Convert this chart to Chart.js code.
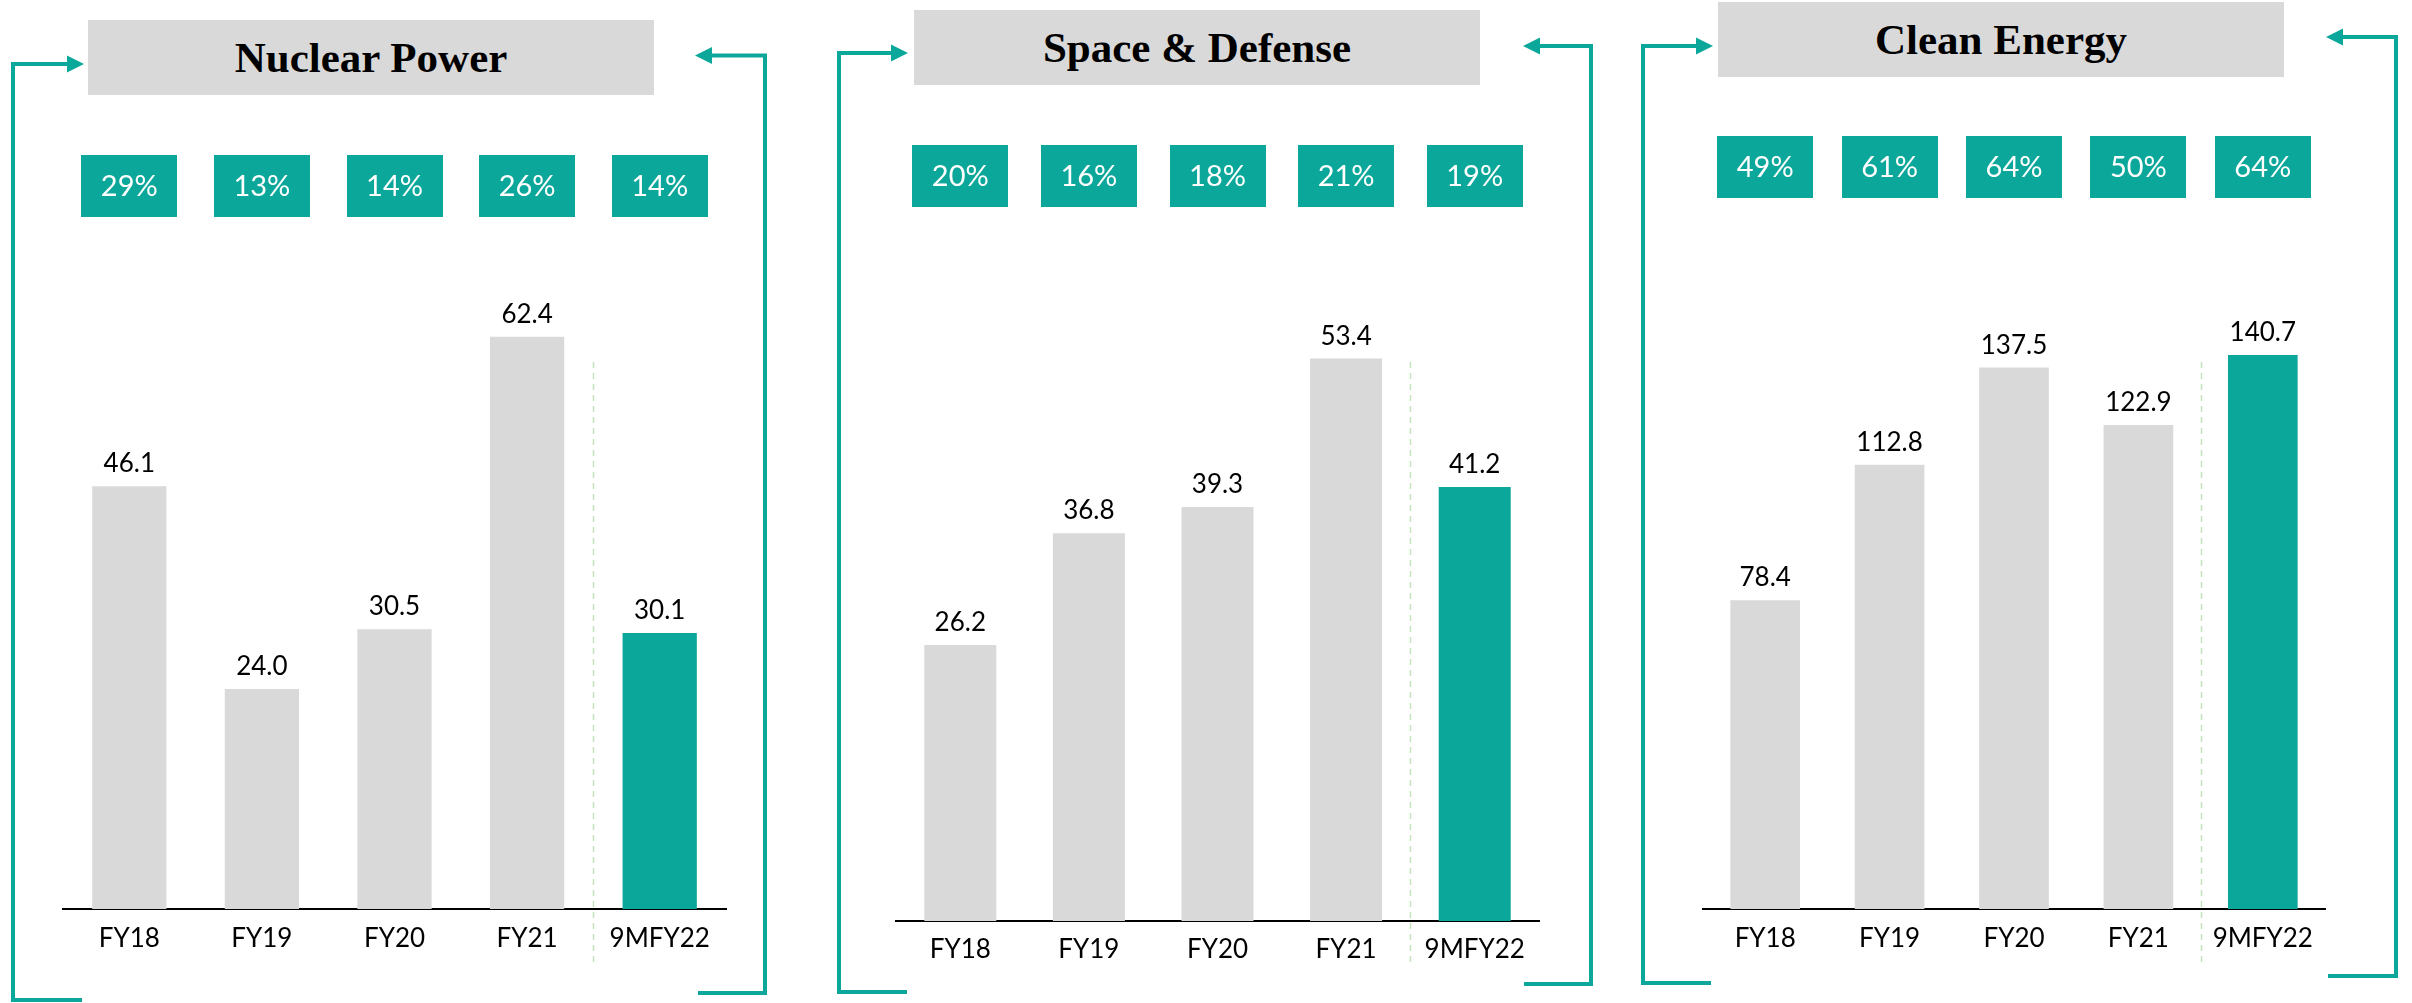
<!DOCTYPE html>
<html>
<head>
<meta charset="utf-8">
<script src="https://cdn.jsdelivr.net/npm/chart.js@4.4.1/dist/chart.umd.min.js"></script>
<style>
  html, body { margin: 0; padding: 0; background: #fff; }
  #page { position: relative; width: 2412px; height: 1003px; overflow: hidden; }
  .title {
    position: absolute; background: #d9d9d9; display: flex;
    align-items: center; justify-content: center;
    font-family: "Liberation Serif", serif; font-weight: bold; font-size: 43px; color: #000;
  }
  canvas { position: absolute; top: 0; }
  svg { position: absolute; left: 0; top: 0; }
</style>
</head>
<body>
<div id="page">
  <svg width="2412" height="1003">
    <g fill="none" stroke="#0aa79a" stroke-width="4">
      <path d="M82 1000 H13 V64 H68"/>
      <path d="M698 993 H765 V55.5 H711"/>
      <path d="M907 992 H839 V53 H893"/>
      <path d="M1524 984 H1591 V46 H1538"/>
      <path d="M1711 983 H1643 V46 H1698"/>
      <path d="M2328 976 H2396 V37 H2341"/>
    </g>
    <g fill="#0aa79a">
      <polygon points="67,55.5 84,64 67,72.5"/>
      <polygon points="712,47 695,55.5 712,64"/>
      <polygon points="891,44.5 908,53 891,61.5"/>
      <polygon points="1540,37.5 1523,46 1540,54.5"/>
      <polygon points="1696,37.5 1713,46 1696,54.5"/>
      <polygon points="2343,28.5 2326,37 2343,45.5"/>
    </g>
  </svg>
  <div class="title" id="t0" style="left:88px;top:20px;width:566px;height:75px;"></div>
  <div class="title" id="t1" style="left:914px;top:10px;width:566px;height:75px;"></div>
  <div class="title" id="t2" style="left:1718px;top:2px;width:566px;height:75px;"></div>
  <canvas id="c0" width="800" height="1003" style="left:0px;"></canvas>
  <canvas id="c1" width="800" height="1003" style="left:820px;"></canvas>
  <canvas id="c2" width="792" height="1003" style="left:1620px;"></canvas>
</div>
<script>
const categories = ['FY18', 'FY19', 'FY20', 'FY21', '9MFY22'];
const panelTitles = ['Nuclear Power', 'Space & Defense', 'Clean Energy'];

const nuclearValues = [46.1, 24.0, 30.5, 62.4, 30.1];
const nuclearShares = [29, 13, 14, 26, 14];

const spaceValues = [26.2, 36.8, 39.3, 53.4, 41.2];
const spaceShares = [20, 16, 18, 21, 19];

const cleanValues = [78.4, 112.8, 137.5, 122.9, 140.7];
const cleanShares = [49, 61, 64, 50, 64];

const TEAL = '#0aa79a';
const GREY = '#d9d9d9';

// per-panel layout
const panels = [
  { values: nuclearValues, shares: nuclearShares, max: 70,  pad: { left: 63, right: 74, top: 267 }, axisH: 94, tickPad: 14, boxTop: 155 },
  { values: spaceValues,   shares: spaceShares,   max: 60,  pad: { left: 76, right: 81, top: 289 }, axisH: 82, tickPad: 13, boxTop: 145 },
  { values: cleanValues,   shares: cleanShares,   max: 160, pad: { left: 83, right: 87, top: 279 }, axisH: 94, tickPad: 14, boxTop: 136 },
];

const extrasPlugin = {
  id: 'extras',
  afterDatasetsDraw(chart, args, opts) {
    const ctx = chart.ctx;
    const bars = chart.getDatasetMeta(0).data;
    ctx.save();

    // dashed separator before the 9M bar
    const sx = Math.round((bars[3].x + bars[4].x) / 2) + 0.5;
    ctx.strokeStyle = '#c6e3bd';
    ctx.lineWidth = 1.5;
    ctx.setLineDash([6, 5]);
    ctx.beginPath();
    ctx.moveTo(sx, 362);
    ctx.lineTo(sx, 967);
    ctx.stroke();
    ctx.setLineDash([]);

    // value labels
    ctx.fillStyle = '#000';
    ctx.font = '26px Lato';
    ctx.textAlign = 'center';
    ctx.textBaseline = 'alphabetic';
    bars.forEach((bar, i) => {
      ctx.fillText(opts.values[i].toFixed(1), bar.x, bar.y - 14);
    });

    // share boxes
    ctx.font = '29px Lato';
    ctx.textBaseline = 'middle';
    bars.forEach((bar, i) => {
      ctx.fillStyle = TEAL;
      ctx.fillRect(Math.round(bar.x - 48), opts.boxTop, 96, 62);
      ctx.fillStyle = '#fff';
      ctx.fillText(opts.shares[i] + '%', bar.x, opts.boxTop + 32);
    });
    ctx.restore();
  }
};

function makeChart(idx) {
  const p = panels[idx];
  document.getElementById('t' + idx).textContent = panelTitles[idx];
  return new Chart(document.getElementById('c' + idx), {
    type: 'bar',
    data: {
      labels: categories,
      datasets: [{
        data: p.values,
        backgroundColor: categories.map((c, i) => i === categories.length - 1 ? TEAL : GREY),
        barPercentage: 0.56,
        categoryPercentage: 1,
      }],
    },
    options: {
      responsive: false,
      animation: false,
      layout: { padding: { left: p.pad.left, right: p.pad.right, top: p.pad.top, bottom: 0 } },
      plugins: {
        legend: { display: false },
        tooltip: { enabled: false },
        extras: { values: p.values, shares: p.shares, boxTop: p.boxTop },
      },
      scales: {
        x: {
          grid: { display: false, drawTicks: false },
          border: { display: true, color: '#000', width: 2 },
          ticks: { padding: p.tickPad, color: '#000', font: { family: 'Lato', size: 26 } },
          afterFit: (scale) => { scale.height = p.axisH; },
        },
        y: { display: false, min: 0, max: p.max },
      },
    },
    plugins: [extrasPlugin],
  });
}

Promise.all([
  document.fonts.load('26px Lato'),
  document.fonts.load('bold 43px "Liberation Serif"'),
]).catch(() => {}).then(() => {
  panels.forEach((p, i) => makeChart(i));
});
</script>
</body>
</html>
